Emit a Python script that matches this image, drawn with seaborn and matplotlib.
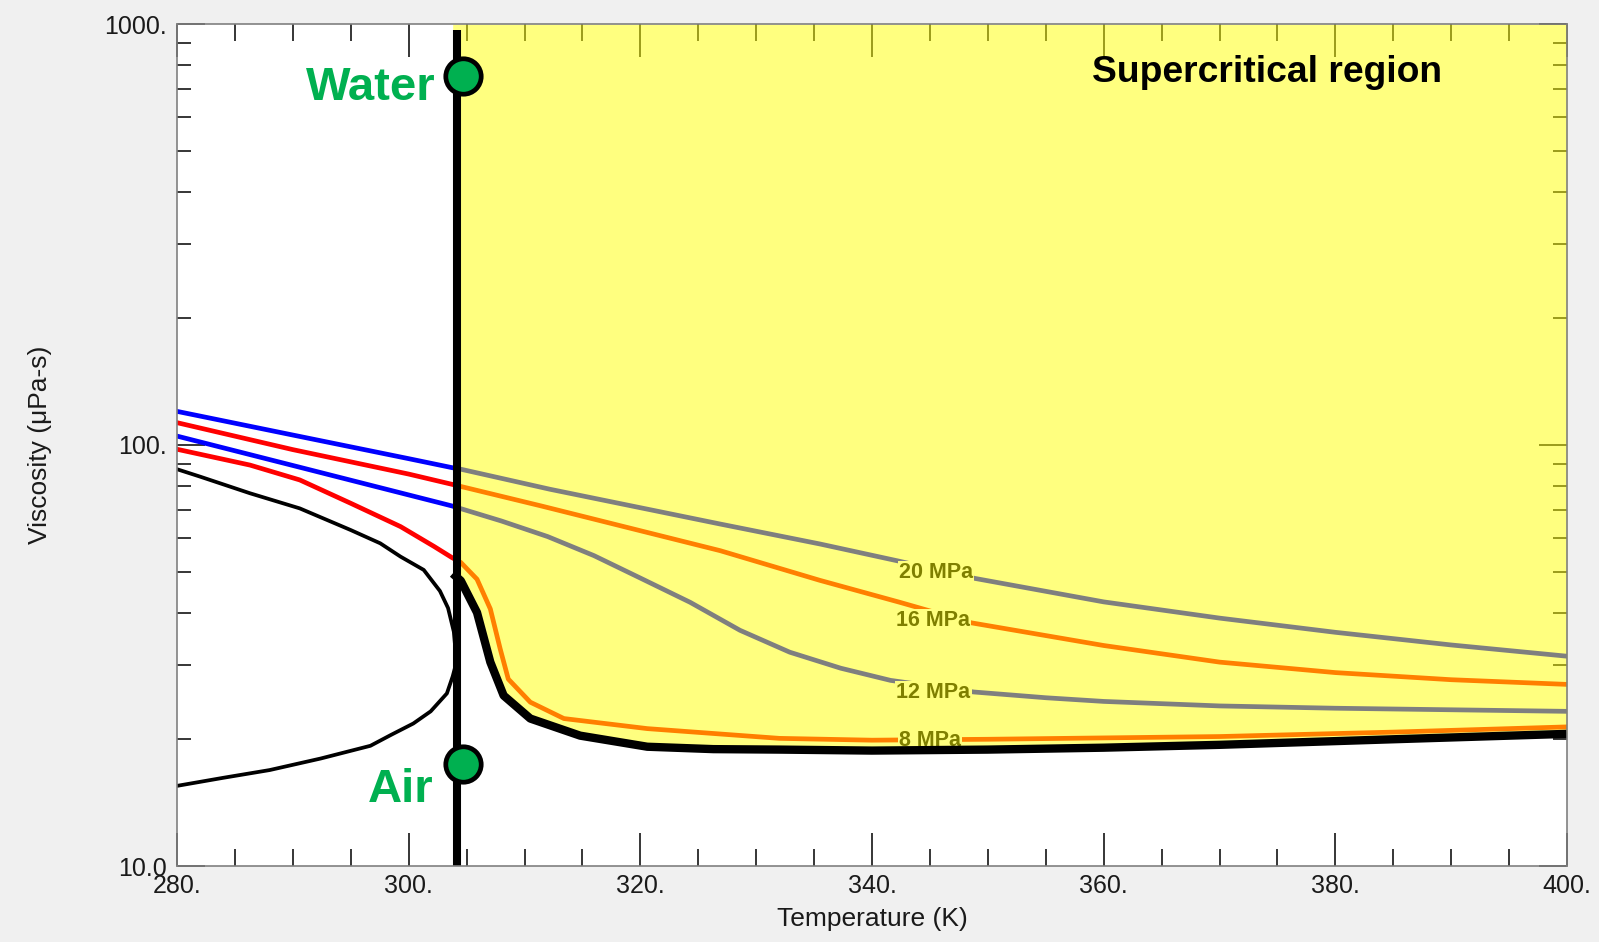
import matplotlib
matplotlib.use("Agg")
import matplotlib.pyplot as plt
import matplotlib.ticker as mticker
import seaborn as sns

# ── Data ─────────────────────────────────────────────────────────────────────
T_CRIT = 304.13
VLINE_MU = [10.0, 970.0]

# saturation dome: liquid branch up to Tc, then vapour branch back down
DOME_T = [280, 282, 286.3, 290.6, 295, 297.55, 299.3, 301.3, 302.7, 303.4, 303.9, 304.13,
          303.8, 303.3, 301.9, 300.4, 298.5, 296.7, 292.4, 288, 284, 280]
DOME_MU = [87.6, 84.1, 76.8, 70.7, 62.8, 58.4, 54.3, 50.5, 45.0, 41.0, 36.0, 30.5,
           28.2, 25.7, 23.3, 21.8, 20.5, 19.3, 18.0, 16.9, 16.2, 15.5]

# isobars
P20_T = [280, 290, 300, 303.7, 304.5, 312.2, 326.9, 335.5, 342.3, 348.9, 360, 370, 380, 390, 400]
P20_MU = [120.2, 105.6, 92.8, 88.4, 87.6, 78.5, 64.9, 58.2, 53.0, 48.2, 42.4, 38.8, 35.9, 33.5, 31.5]

P16_T = [280, 290, 300, 303.7, 311.4, 326.9, 335.5, 342.4, 348.6, 360, 370, 380, 390, 400]
P16_MU = [113.0, 97.5, 85.3, 80.7, 71.7, 56.1, 47.7, 42.3, 37.8, 33.4, 30.5, 28.8, 27.7, 27.0]

P12_T = [280, 290, 300, 303.7, 308, 312, 316, 320, 324.3, 328.6, 332.9, 337.3, 341.6,
         348.8, 355, 360, 370, 380, 390, 400]
P12_MU = [105.0, 89.4, 76.1, 71.7, 66.0, 60.6, 54.6, 48.3, 42.3, 36.3, 32.2, 29.5, 27.6,
          25.9, 25.1, 24.6, 24.0, 23.7, 23.5, 23.3]

P8_T = [280, 286.3, 290.6, 295, 299.3, 302.2, 303.7, 304.5, 305.9, 307.05, 307.9, 308.6,
        310.5, 313.4, 320.6, 332, 340, 350, 370, 385, 400]
P8_MU = [97.7, 89.6, 82.6, 72.7, 64.0, 57.4, 54.1, 52.6, 48.0, 40.8, 32.8, 27.8,
         24.5, 22.4, 21.2, 20.1, 19.9, 20.0, 20.3, 20.8, 21.4]

# lower boundary of the supercritical region (thick black)
EDGE_T = [303.8, 304.5, 305.9, 307.05, 308.2, 310.5, 314.8, 320.6, 326.3, 332.1,
          340, 350, 360, 370, 385, 400]
EDGE_MU = [49.5, 47.6, 40.0, 30.5, 25.4, 22.4, 20.4, 19.2, 18.95, 18.9,
           18.8, 18.9, 19.1, 19.4, 20.0, 20.6]

ISOBAR_LABELS = ["20 MPa", "16 MPa", "12 MPa", "8 MPa"]
LABEL_T = [342.3, 342.1, 342.1, 342.3]
LABEL_MU = [49.9, 38.2, 25.8, 19.9]

WATER_PT = (304.72, 753.0)
AIR_PT = (304.72, 17.45)

X_TICKS = [280, 300, 320, 340, 360, 380, 400]
X_TICK_LABELS = ["280.", "300.", "320.", "340.", "360.", "380.", "400."]
Y_TICKS = [10, 100, 1000]
Y_TICK_LABELS = ["10.0", "100.", "1000."]

GREEN = "#00B050"
BLUE = "#0000FF"
RED = "#FF0000"

# ── Style ────────────────────────────────────────────────────────────────────
sns.set_theme(style="ticks")
plt.rcParams["font.family"] = ["Liberation Sans", "DejaVu Sans"]

fig = plt.figure(figsize=(15.99, 9.42), dpi=100, facecolor="#F0F0F0")
ax = fig.add_axes([177 / 1599, 1 - 866 / 942, 1390 / 1599, 842 / 942])
ax.set_facecolor("white")
ax.set_axisbelow(True)

# curves (drawn under the translucent yellow, so they turn grey / orange there)
sns.lineplot(x=DOME_T, y=DOME_MU, ax=ax, color="black", lw=2.7,
             sort=False, estimator=None, zorder=2)
for tt, mm, col in [(P20_T, P20_MU, BLUE), (P16_T, P16_MU, RED),
                    (P12_T, P12_MU, BLUE), (P8_T, P8_MU, RED)]:
    sns.lineplot(x=tt, y=mm, ax=ax, color=col, lw=3.4, estimator=None, zorder=2)

for lab, tx, my in zip(ISOBAR_LABELS, LABEL_T, LABEL_MU):
    ax.text(tx, my, lab, ha="left", va="center", fontsize=15.5, fontweight="bold",
            color="black", zorder=3,
            bbox=dict(boxstyle="square,pad=0.05", fc="white", ec="none"))

# supercritical region
ax.fill_between(EDGE_T, EDGE_MU, 1000, color=(1, 1, 0), alpha=0.5, lw=0, zorder=4)

sns.lineplot(x=EDGE_T, y=EDGE_MU, ax=ax, color="black", lw=6, estimator=None,
             zorder=5, solid_capstyle="butt")
ax.plot([T_CRIT, T_CRIT], VLINE_MU, color="black", lw=5.8, zorder=5,
        solid_capstyle="butt")

for pt in (WATER_PT, AIR_PT):
    ax.plot(*pt, "o", ms=25.5, mfc=GREEN, mec="black", mew=3.4, zorder=6)

ax.text(302.3, 660, "Water", ha="right", va="baseline", fontsize=34,
        fontweight="bold", color=GREEN, zorder=6)
ax.text(302.1, 14.2, "Air", ha="right", va="baseline", fontsize=34,
        fontweight="bold", color=GREEN, zorder=6)
ax.text(374.1, 767, "Supercritical region", ha="center", va="center",
        fontsize=26.8, fontweight="bold", color="black", zorder=6)

# ── Axes ─────────────────────────────────────────────────────────────────────
ax.set_yscale("log")
ax.set_xlim(280, 400)
ax.set_ylim(10, 1000)

ax.set_xticks(X_TICKS)
ax.set_xticklabels(X_TICK_LABELS)
ax.xaxis.set_minor_locator(mticker.MultipleLocator(5))
ax.set_yticks(Y_TICKS)
ax.set_yticklabels(Y_TICK_LABELS)
ax.yaxis.set_minor_locator(mticker.LogLocator(base=10, subs=range(2, 10)))
ax.yaxis.set_minor_formatter(mticker.NullFormatter())

ax.tick_params(axis="both", which="both", direction="in", top=True, right=True,
               color="black", labelsize=18, labelcolor="#1a1a1a")
ax.tick_params(axis="x", which="major", length=24, width=1.1, pad=6)
ax.tick_params(axis="x", which="minor", length=12, width=1.1)
ax.tick_params(axis="y", which="major", length=20, width=1.1, pad=7)
ax.tick_params(axis="y", which="minor", length=10, width=1.1)

for sp in ax.spines.values():
    sp.set_color("#808080")
    sp.set_linewidth(1.2)
    sp.set_zorder(5)

ax.set_xlabel("Temperature (K)", fontsize=19, color="#1a1a1a", labelpad=6)
ax.set_ylabel("Viscosity (μPa-s)", fontsize=19, color="#1a1a1a")
ax.yaxis.set_label_coords(-0.09, 0.5)

fig.savefig("out.png", dpi=100, facecolor=fig.get_facecolor())
